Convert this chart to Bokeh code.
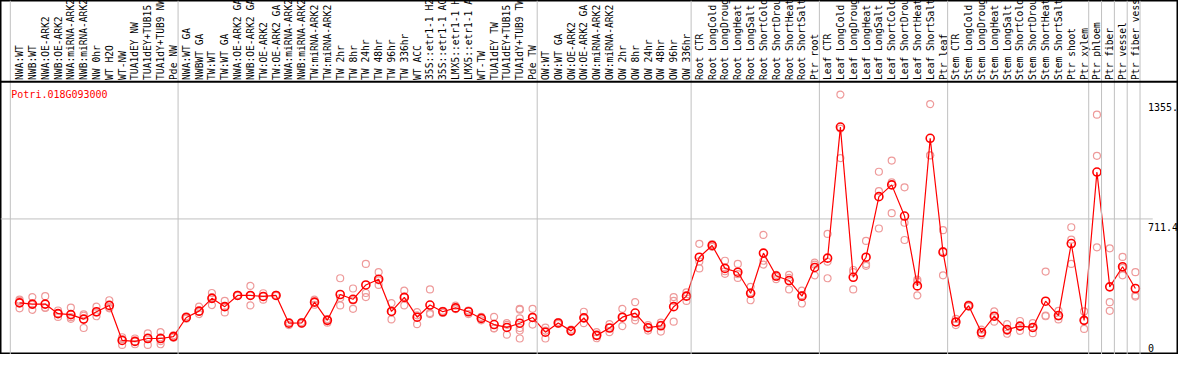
import math
from bokeh.plotting import figure
from bokeh.models import Range1d, Span, ColumnDataSource
from bokeh.core.properties import value
from bokeh.embed import file_html
from bokeh.resources import INLINE

gene = "Potri.018G093000"

samples = [
    "NWA:WT", "NWB:WT", "NWA:OE-ARK2", "NWB:OE-ARK2", "NWA:miRNA-ARK2", "NWB:miRNA-ARK2",
    "NW 0hr", "WT H2O", "WT-NW", "TUA1dEY NW", "TUA1dEY+TUB15", "TUA1dY+TUB9 NW", "Pde NW",
    "NWA:WT GA", "NWBWT GA", "TW:WT", "TW:WT GA", "NWA:OE-ARK2 GA", "NWB:OE-ARK2 GA",
    "TW:OE-ARK2", "TW:OE-ARK2 GA", "NWA:miRNA-ARK2", "NWB:miRNA-ARK2", "TW:miRNA-ARK2",
    "TW:miRNA-ARK2", "TW 2hr", "TW 8hr", "TW 24hr", "TW 48hr", "TW 96hr", "TW 336hr",
    "WT ACC", "35S::etr1-1 H2", "35S::etr1-1 AC", "LMX5::etr1-1 H", "LMX5::etr1-1 A",
    "WT-TW", "TUA1dEY TW", "TUA1dEY+TUB15", "TUA1dY+TUB9 TW", "Pde TW",
    "OW:WT", "OW:WT GA", "OW:OE-ARK2", "OW:OE-ARK2 GA", "OW:miRNA-ARK2", "OW:miRNA-ARK2",
    "OW 2hr", "OW 8hr", "OW 24hr", "OW 48hr", "OW 96hr", "OW 336hr",
    "Root CTR", "Root LongCold", "Root LongDroug", "Root LongHeat", "Root LongSalt",
    "Root ShortCold", "Root ShortDrou", "Root ShortHeat", "Root ShortSalt", "Ptr root",
    "Leaf CTR", "Leaf LongCold", "Leaf LongDroug", "Leaf LongHeat", "Leaf LongSalt",
    "Leaf ShortCold", "Leaf ShortDrou", "Leaf ShortHeat", "Leaf ShortSalt", "Ptr leaf",
    "Stem CTR", "Stem LongCold", "Stem LongDroug", "Stem LongHeat", "Stem LongSalt",
    "Stem ShortCold", "Stem ShortDrou", "Stem ShortHeat", "Stem ShortSalt", "Ptr shoot",
    "Ptr xylem", "Ptr phloem", "Ptr fiber", "Ptr vessel", "Ptr fiber vess",
]

# first sample index of each group (vertical separators)
group_starts = [0, 13, 41, 53, 63, 73, 84, 85, 86, 87, 88]

means = [
    268.0, 261.4, 261.4, 210.8, 205.8, 182.0, 220.9, 254.3, 69.3, 64.2,
    79.4, 79.4, 89.5, 190.6, 224.0, 291.7, 247.7, 306.9, 306.9, 301.8,
    306.9, 160.3, 161.8, 271.5, 175.4, 312.0, 286.7, 362.5, 392.9, 222.5,
    296.8, 192.1, 256.3, 220.9, 241.2, 220.9, 185.6, 153.2, 138.0, 160.3,
    190.6, 112.7, 161.8, 119.8, 188.6, 96.1, 135.0, 192.1, 213.9, 136.5,
    146.6, 247.7, 303.4, 509.1, 571.3, 450.0, 429.8, 318.5, 530.9, 409.5,
    385.8, 303.4, 455.0, 504.1, 1196.8, 403.0, 509.1, 829.2, 891.4, 726.5,
    357.5, 1137.6, 535.9, 166.8, 252.8, 111.2, 197.2, 126.4, 145.1, 138.0,
    276.6, 200.7, 581.4, 175.4, 959.1, 352.4, 458.6, 343.8,
]

replicates = [
    [284.7, 239.1, 278.1], [298.3, 231.1, 257.9], [303.4, 241.2, 242.7], [227.5, 193.6, 212.4],
    [242.7, 183.5, 192.1], [207.3, 135.0, 199.7], [247.7, 197.2, 217.4], [281.6, 239.1, 242.7],
    [86.0, 45.5, 75.8], [79.4, 49.0, 64.2], [106.2, 45.5, 86.0], [112.7, 49.0, 86.0, 65.7],
    [96.1, 83.4, 89.5], [197.2, 184.5, 190.6], [247.7, 208.8, 220.9], [320.0, 256.3, 298.3],
    [278.1, 217.4, 247.7], [310.0, 306.9, 304.0], [357.5, 254.3, 306.9], [318.5, 284.7, 301.8],
    [310.0, 306.9, 304.0], [166.8, 150.2, 161.8], [156.7, 166.8, 161.8], [284.7, 257.9, 271.5],
    [163.3, 182.0, 180.5], [397.9, 293.2, 254.3], [343.8, 236.1, 280.6], [473.7, 320.0, 298.3],
    [429.8, 362.5, 386.8], [266.5, 180.5, 220.9], [332.2, 254.3, 299.8], [218.9, 155.2, 202.2],
    [338.8, 213.9, 208.8], [226.0, 220.9, 214.9], [252.8, 235.1, 236.1], [208.8, 227.5, 226.0],
    [193.6, 175.4, 187.1], [193.6, 133.0, 134.0], [160.3, 99.6, 151.7],
    [236.1, 232.0, 185.6, 135.0, 121.3, 79.4],
    [236.1, 153.2, 190.6], [136.5, 79.4, 121.3], [161.8, 166.8, 156.7], [126.4, 116.3, 118.8],
    [220.9, 160.3, 187.1], [112.7, 96.1, 80.9], [155.2, 112.7, 136.5], [236.1, 145.1, 192.1],
    [271.5, 175.4, 192.1], [150.2, 121.3, 136.5], [163.3, 116.3, 151.7], [298.3, 278.1, 168.4],
    [323.6, 278.1, 303.4], [579.9, 450.0, 486.9], [577.9, 571.3, 563.7], [490.4, 421.2, 434.8],
    [473.7, 399.4, 419.6], [352.4, 281.6, 323.6], [626.9, 470.2, 490.4], [416.1, 392.9, 404.5],
    [416.1, 399.4, 338.8], [332.2, 264.4, 308.4], [480.3, 413.1, 470.2], [632.0, 397.9, 485.4],
    [1368.7, 1032.9, 1188.8], [441.4, 338.8, 429.8], [595.1, 463.6, 472.7], [960.6, 858.0, 660.8],
    [1019.8, 905.0, 741.7], [878.2, 691.2, 600.1], [390.8, 306.9, 381.7], [1318.1, 1048.1, 1046.6],
    [652.2, 413.1, 541.0], [150.2, 183.5, 166.8], [248.0, 253.0, 258.0], [126.4, 97.6, 108.7],
    [222.5, 168.4, 195.7], [155.2, 104.7, 119.8], [171.9, 119.8, 144.1], [160.3, 107.7, 135.0],
    [433.3, 200.7, 197.2], [226.0, 180.5, 195.7], [667.4, 601.7, 473.7], [222.5, 129.9, 174.4],
    [1262.5, 1045.1, 561.2], [556.2, 271.5, 226.0], [510.7, 413.1, 452.5], [429.8, 306.9, 300.8],
]

tick_values = [1355.0, 711.4, 0.0]
tick_labels = ["1355.", "711.4", "0"]

# ---------------- layout ----------------
W, H = 1178, 354
n = len(samples)
x_lo, x_hi = -1.485, 90.36
y_lo, y_hi = -5.06, 1865.7
label_band_y = 1436.0      # separator between labels and plot
label_base_y = 1446.0      # where rotated labels start

p = figure(width=W, height=H, x_range=Range1d(x_lo, x_hi), y_range=Range1d(y_lo, y_hi),
           output_backend="svg", toolbar_location=None, tools="",
           x_axis_type=None, y_axis_type=None, min_border=0)
p.background_fill_color = "white"
p.border_fill_color = "white"
p.outline_line_color = "black"
p.outline_line_width = 2

grid_color = "#C0C0C0"
# vertical group separators
for k, g in enumerate(group_starts):
    pos = g - (0.72 if k == 0 else 0.64)
    p.add_layout(Span(location=pos, dimension="height", line_color=grid_color, line_width=1))

# horizontal middle gridline
p.segment(x0=[x_lo], x1=[n + 0.35], y0=[tick_values[1]], y1=[tick_values[1]],
          line_color=grid_color, line_width=1)

# separator between label band and plot
p.add_layout(Span(location=label_band_y, dimension="width", line_color="black", line_width=2))

# rotated sample labels
xs = list(range(n))
p.text(x=xs, y=[label_base_y] * n, text=samples, angle=math.pi / 2,
       text_font=value("DejaVu Sans Mono"), text_font_size="9.6px",
       text_align="left", text_baseline="middle", text_color="black")

# replicate points
rx, ry = [], []
for i, reps in enumerate(replicates):
    for r in reps:
        rx.append(i)
        ry.append(r)
p.scatter(rx, ry, marker="circle", size=7, fill_color=None,
          line_color="#EE9A9A", line_width=1.2)

# mean line + markers
p.line(xs, means, line_color="#FF0000", line_width=1.2)
p.scatter(xs, means, marker="circle", size=8, fill_color=None,
          line_color="#FF0000", line_width=1.6)

# gene name
p.text(x=[-0.72], y=[label_band_y], text=[gene], x_offset=1, y_offset=7,
       text_font=value("DejaVu Sans Mono"), text_font_size="10px",
       text_align="left", text_baseline="top", text_color="#FF0000")

# value tick labels (right side, inside the frame)
tsrc = ColumnDataSource(dict(x=[n - 0.02] * len(tick_values), y=tick_values,
                             t=tick_labels, off=[10, 8, -6]))
p.text(x="x", y="y", text="t", y_offset="off", source=tsrc,
       text_font=value("DejaVu Sans Mono"), text_font_size="10px",
       text_align="left", text_baseline="alphabetic", text_color="black")

open("out.html", "w").write(file_html(p, INLINE))
